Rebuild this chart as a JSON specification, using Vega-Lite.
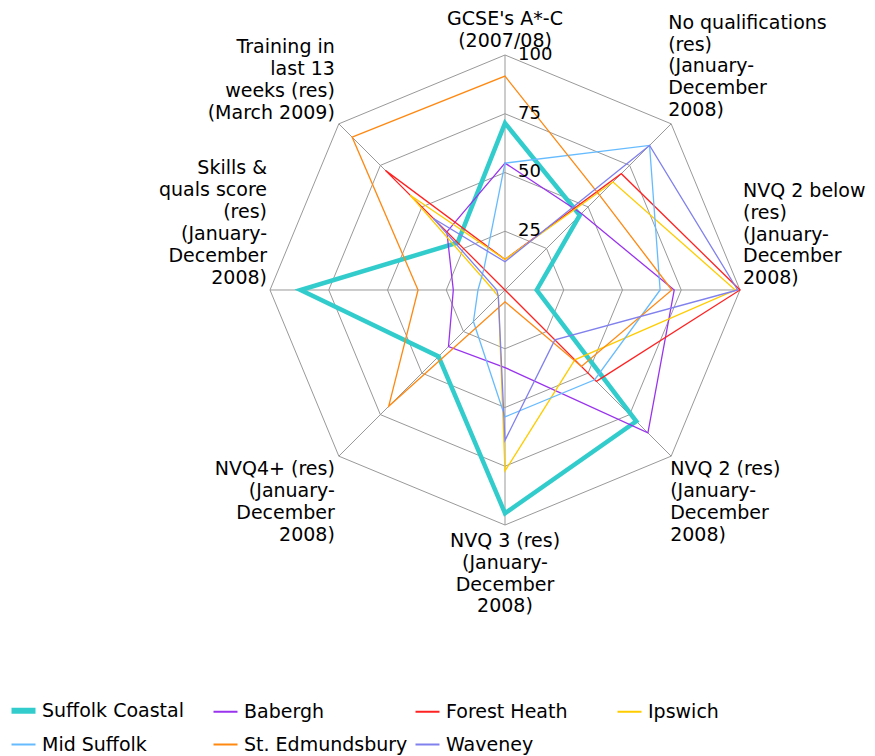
{
  "$schema": "https://vega.github.io/schema/vega-lite/v6.json",
  "width": 875,
  "height": 756,
  "autosize": {"type": "none"},
  "padding": 0,
  "background": "white",
  "config": {"view": {"stroke": null}, "font": "DejaVu Sans"},
  "datasets": {
    "axes": [
      {"axis": "gcse", "idx": 0, "label": "GCSE's A*-C\n(2007/08)"},
      {"axis": "noq", "idx": 1, "label": "No qualifications\n(res)\n(January-\nDecember\n2008)"},
      {"axis": "nvq2b", "idx": 2, "label": "NVQ 2 below\n(res)\n(January-\nDecember\n2008)"},
      {"axis": "nvq2", "idx": 3, "label": "NVQ 2 (res)\n(January-\nDecember\n2008)"},
      {"axis": "nvq3", "idx": 4, "label": "NVQ 3 (res)\n(January-\nDecember\n2008)"},
      {"axis": "nvq4", "idx": 5, "label": "NVQ4+ (res)\n(January-\nDecember\n2008)"},
      {"axis": "skills", "idx": 6, "label": "Skills &\nquals score\n(res)\n(January-\nDecember\n2008)"},
      {"axis": "train", "idx": 7, "label": "Training in\nlast 13\nweeks (res)\n(March 2009)"}
    ],
    "rings": [{"level": 25}, {"level": 50}, {"level": 75}, {"level": 100}],
    "scores": [
      {"district": "Suffolk Coastal", "axis": "gcse", "value": 71},
      {"district": "Suffolk Coastal", "axis": "noq", "value": 45},
      {"district": "Suffolk Coastal", "axis": "nvq2b", "value": 13.5},
      {"district": "Suffolk Coastal", "axis": "nvq2", "value": 79},
      {"district": "Suffolk Coastal", "axis": "nvq3", "value": 95},
      {"district": "Suffolk Coastal", "axis": "nvq4", "value": 40},
      {"district": "Suffolk Coastal", "axis": "skills", "value": 87},
      {"district": "Suffolk Coastal", "axis": "train", "value": 28.5},
      {"district": "Babergh", "axis": "gcse", "value": 54},
      {"district": "Babergh", "axis": "noq", "value": 46},
      {"district": "Babergh", "axis": "nvq2b", "value": 72},
      {"district": "Babergh", "axis": "nvq2", "value": 86},
      {"district": "Babergh", "axis": "nvq3", "value": 33},
      {"district": "Babergh", "axis": "nvq4", "value": 34},
      {"district": "Babergh", "axis": "skills", "value": 22},
      {"district": "Babergh", "axis": "train", "value": 35},
      {"district": "Forest Heath", "axis": "gcse", "value": 13},
      {"district": "Forest Heath", "axis": "noq", "value": 70},
      {"district": "Forest Heath", "axis": "nvq2b", "value": 100},
      {"district": "Forest Heath", "axis": "nvq2", "value": 55},
      {"district": "Forest Heath", "axis": "nvq3", "value": 0},
      {"district": "Forest Heath", "axis": "nvq4", "value": 0},
      {"district": "Forest Heath", "axis": "skills", "value": 0},
      {"district": "Forest Heath", "axis": "train", "value": 72},
      {"district": "Ipswich", "axis": "gcse", "value": 13},
      {"district": "Ipswich", "axis": "noq", "value": 65},
      {"district": "Ipswich", "axis": "nvq2b", "value": 98},
      {"district": "Ipswich", "axis": "nvq2", "value": 42},
      {"district": "Ipswich", "axis": "nvq3", "value": 77},
      {"district": "Ipswich", "axis": "nvq4", "value": 4},
      {"district": "Ipswich", "axis": "skills", "value": 5},
      {"district": "Ipswich", "axis": "train", "value": 57},
      {"district": "Mid Suffolk", "axis": "gcse", "value": 54},
      {"district": "Mid Suffolk", "axis": "noq", "value": 87},
      {"district": "Mid Suffolk", "axis": "nvq2b", "value": 66},
      {"district": "Mid Suffolk", "axis": "nvq2", "value": 54},
      {"district": "Mid Suffolk", "axis": "nvq3", "value": 54},
      {"district": "Mid Suffolk", "axis": "nvq4", "value": 19},
      {"district": "Mid Suffolk", "axis": "skills", "value": 11.5},
      {"district": "Mid Suffolk", "axis": "train", "value": 12.7},
      {"district": "St. Edmundsbury", "axis": "gcse", "value": 91},
      {"district": "St. Edmundsbury", "axis": "noq", "value": 57},
      {"district": "St. Edmundsbury", "axis": "nvq2b", "value": 71},
      {"district": "St. Edmundsbury", "axis": "nvq2", "value": 46},
      {"district": "St. Edmundsbury", "axis": "nvq3", "value": 5},
      {"district": "St. Edmundsbury", "axis": "nvq4", "value": 70},
      {"district": "St. Edmundsbury", "axis": "skills", "value": 37},
      {"district": "St. Edmundsbury", "axis": "train", "value": 92},
      {"district": "Waveney", "axis": "gcse", "value": 12},
      {"district": "Waveney", "axis": "noq", "value": 87},
      {"district": "Waveney", "axis": "nvq2b", "value": 99},
      {"district": "Waveney", "axis": "nvq2", "value": 30},
      {"district": "Waveney", "axis": "nvq3", "value": 64},
      {"district": "Waveney", "axis": "nvq4", "value": 4},
      {"district": "Waveney", "axis": "skills", "value": 3.5},
      {"district": "Waveney", "axis": "train", "value": 43}
    ]
  },
  "layer": [
    {
      "data": {"name": "axes"},
      "transform": [
        {"calculate": "[25, 50, 75, 100]", "as": "levels"},
        {"flatten": ["levels"], "as": ["level"]},
        {"calculate": "datum.level * sin(datum.idx * PI / 4)", "as": "px"},
        {"calculate": "datum.level * cos(datum.idx * PI / 4)", "as": "py"}
      ],
      "mark": {"type": "line", "interpolate": "linear-closed", "color": "#999999", "strokeWidth": 1},
      "encoding": {
        "x": {"field": "px", "type": "quantitative", "scale": {"domain": [-214.894, 157.447], "nice": false, "zero": false}, "axis": null},
        "y": {"field": "py", "type": "quantitative", "scale": {"domain": [-198.298, 123.404], "nice": false, "zero": false}, "axis": null},
        "detail": {"field": "level", "type": "nominal"},
        "order": {"field": "idx", "type": "quantitative"}
      }
    },
    {
      "data": {"name": "axes"},
      "transform": [
        {"calculate": "0", "as": "cx"},
        {"calculate": "100 * sin(datum.idx * PI / 4)", "as": "px"},
        {"calculate": "100 * cos(datum.idx * PI / 4)", "as": "py"}
      ],
      "mark": {"type": "rule", "color": "#999999", "strokeWidth": 1},
      "encoding": {
        "x": {"field": "cx", "type": "quantitative", "scale": {"domain": [-214.894, 157.447], "nice": false, "zero": false}, "axis": null},
        "y": {"field": "cx", "type": "quantitative", "scale": {"domain": [-198.298, 123.404], "nice": false, "zero": false}, "axis": null},
        "x2": {"field": "px"},
        "y2": {"field": "py"}
      }
    },
    {
      "data": {"name": "scores"},
      "transform": [
        {"lookup": "axis", "from": {"data": {"name": "axes"}, "key": "axis", "fields": ["idx"]}},
        {"calculate": "datum.value * sin(datum.idx * PI / 4)", "as": "px"},
        {"calculate": "datum.value * cos(datum.idx * PI / 4)", "as": "py"}
      ],
      "mark": {"type": "line", "interpolate": "linear-closed"},
      "encoding": {
        "x": {"field": "px", "type": "quantitative", "scale": {"domain": [-214.894, 157.447], "nice": false, "zero": false}, "axis": null},
        "y": {"field": "py", "type": "quantitative", "scale": {"domain": [-198.298, 123.404], "nice": false, "zero": false}, "axis": null},
        "order": {"field": "idx", "type": "quantitative"},
        "color": {
          "field": "district",
          "type": "nominal",
          "scale": {
            "domain": ["Suffolk Coastal", "Babergh", "Forest Heath", "Ipswich", "Mid Suffolk", "St. Edmundsbury", "Waveney"],
            "range": ["#33cccc", "#9933ee", "#ff2222", "#ffcc00", "#66bbff", "#ff8811", "#8080ee"]
          },
          "legend": {
            "title": null,
            "orient": "none",
            "legendX": 14,
            "legendY": 701,
            "direction": "horizontal",
            "columns": 4,
            "gridAlign": "all",
            "columnPadding": 3,
            "rowPadding": 12,
            "symbolType": "stroke",
            "symbolSize": 576,
            "symbolStrokeWidth": 2,
            "labelFont": "DejaVu Sans",
            "labelFontSize": 19,
            "labelColor": "#000000",
            "labelOffset": 9,
            "labelLimit": 300,
            "padding": 0,
            "encode": {"symbols": {"update": {"strokeWidth": {"signal": "datum.value === 'Suffolk Coastal' ? 6 : 2"}}}}
          }
        },
        "strokeWidth": {"condition": {"test": "datum.district === 'Suffolk Coastal'", "value": 4.5}, "value": 1.3}
      }
    },
    {
      "data": {"name": "rings"},
      "transform": [{"calculate": "0", "as": "cx"}],
      "mark": {"type": "text", "align": "left", "baseline": "middle", "dx": 13, "fontSize": 18, "font": "DejaVu Sans", "color": "#000000"},
      "encoding": {
        "x": {"field": "cx", "type": "quantitative", "scale": {"domain": [-214.894, 157.447], "nice": false, "zero": false}, "axis": null},
        "y": {"field": "level", "type": "quantitative", "scale": {"domain": [-198.298, 123.404], "nice": false, "zero": false}, "axis": null},
        "text": {"field": "level", "type": "quantitative"}
      }
    },
    {
      "data": {"name": "axes"},
      "transform": [{"filter": "datum.axis === 'gcse'"}, {"calculate": "100 * sin(datum.idx * PI / 4)", "as": "px"}, {"calculate": "100 * cos(datum.idx * PI / 4)", "as": "py"}],
      "mark": {"type": "text", "align": "center", "baseline": "middle", "dx": 0, "dy": -36, "lineBreak": "\n", "lineHeight": 22, "fontSize": 19, "font": "DejaVu Sans", "color": "#000000"},
      "encoding": {
        "x": {"field": "px", "type": "quantitative", "scale": {"domain": [-214.894, 157.447], "nice": false, "zero": false}, "axis": null},
        "y": {"field": "py", "type": "quantitative", "scale": {"domain": [-198.298, 123.404], "nice": false, "zero": false}, "axis": null},
        "text": {"field": "label", "type": "nominal"}
      }
    },
    {
      "data": {"name": "axes"},
      "transform": [{"filter": "datum.axis === 'noq'"}, {"calculate": "100 * sin(datum.idx * PI / 4)", "as": "px"}, {"calculate": "100 * cos(datum.idx * PI / 4)", "as": "py"}],
      "mark": {"type": "text", "align": "left", "baseline": "middle", "dx": -3, "dy": -101, "lineBreak": "\n", "lineHeight": 21.8, "fontSize": 19, "font": "DejaVu Sans", "color": "#000000"},
      "encoding": {
        "x": {"field": "px", "type": "quantitative", "scale": {"domain": [-214.894, 157.447], "nice": false, "zero": false}, "axis": null},
        "y": {"field": "py", "type": "quantitative", "scale": {"domain": [-198.298, 123.404], "nice": false, "zero": false}, "axis": null},
        "text": {"field": "label", "type": "nominal"}
      }
    },
    {
      "data": {"name": "axes"},
      "transform": [{"filter": "datum.axis === 'nvq2b'"}, {"calculate": "100 * sin(datum.idx * PI / 4)", "as": "px"}, {"calculate": "100 * cos(datum.idx * PI / 4)", "as": "py"}],
      "mark": {"type": "text", "align": "left", "baseline": "middle", "dx": 3, "dy": -99, "lineBreak": "\n", "lineHeight": 21.8, "fontSize": 19, "font": "DejaVu Sans", "color": "#000000"},
      "encoding": {
        "x": {"field": "px", "type": "quantitative", "scale": {"domain": [-214.894, 157.447], "nice": false, "zero": false}, "axis": null},
        "y": {"field": "py", "type": "quantitative", "scale": {"domain": [-198.298, 123.404], "nice": false, "zero": false}, "axis": null},
        "text": {"field": "label", "type": "nominal"}
      }
    },
    {
      "data": {"name": "axes"},
      "transform": [{"filter": "datum.axis === 'nvq2'"}, {"calculate": "100 * sin(datum.idx * PI / 4)", "as": "px"}, {"calculate": "100 * cos(datum.idx * PI / 4)", "as": "py"}],
      "mark": {"type": "text", "align": "left", "baseline": "middle", "dx": -1, "dy": 13, "lineBreak": "\n", "lineHeight": 21.8, "fontSize": 19, "font": "DejaVu Sans", "color": "#000000"},
      "encoding": {
        "x": {"field": "px", "type": "quantitative", "scale": {"domain": [-214.894, 157.447], "nice": false, "zero": false}, "axis": null},
        "y": {"field": "py", "type": "quantitative", "scale": {"domain": [-198.298, 123.404], "nice": false, "zero": false}, "axis": null},
        "text": {"field": "label", "type": "nominal"}
      }
    },
    {
      "data": {"name": "axes"},
      "transform": [{"filter": "datum.axis === 'nvq3'"}, {"calculate": "100 * sin(datum.idx * PI / 4)", "as": "px"}, {"calculate": "100 * cos(datum.idx * PI / 4)", "as": "py"}],
      "mark": {"type": "text", "align": "center", "baseline": "middle", "dx": 0, "dy": 16, "lineBreak": "\n", "lineHeight": 21.8, "fontSize": 19, "font": "DejaVu Sans", "color": "#000000"},
      "encoding": {
        "x": {"field": "px", "type": "quantitative", "scale": {"domain": [-214.894, 157.447], "nice": false, "zero": false}, "axis": null},
        "y": {"field": "py", "type": "quantitative", "scale": {"domain": [-198.298, 123.404], "nice": false, "zero": false}, "axis": null},
        "text": {"field": "label", "type": "nominal"}
      }
    },
    {
      "data": {"name": "axes"},
      "transform": [{"filter": "datum.axis === 'nvq4'"}, {"calculate": "100 * sin(datum.idx * PI / 4)", "as": "px"}, {"calculate": "100 * cos(datum.idx * PI / 4)", "as": "py"}],
      "mark": {"type": "text", "align": "right", "baseline": "middle", "dx": -4, "dy": 13, "lineBreak": "\n", "lineHeight": 21.8, "fontSize": 19, "font": "DejaVu Sans", "color": "#000000"},
      "encoding": {
        "x": {"field": "px", "type": "quantitative", "scale": {"domain": [-214.894, 157.447], "nice": false, "zero": false}, "axis": null},
        "y": {"field": "py", "type": "quantitative", "scale": {"domain": [-198.298, 123.404], "nice": false, "zero": false}, "axis": null},
        "text": {"field": "label", "type": "nominal"}
      }
    },
    {
      "data": {"name": "axes"},
      "transform": [{"filter": "datum.axis === 'skills'"}, {"calculate": "100 * sin(datum.idx * PI / 4)", "as": "px"}, {"calculate": "100 * cos(datum.idx * PI / 4)", "as": "py"}],
      "mark": {"type": "text", "align": "right", "baseline": "middle", "dx": -3, "dy": -122, "lineBreak": "\n", "lineHeight": 22, "fontSize": 19, "font": "DejaVu Sans", "color": "#000000"},
      "encoding": {
        "x": {"field": "px", "type": "quantitative", "scale": {"domain": [-214.894, 157.447], "nice": false, "zero": false}, "axis": null},
        "y": {"field": "py", "type": "quantitative", "scale": {"domain": [-198.298, 123.404], "nice": false, "zero": false}, "axis": null},
        "text": {"field": "label", "type": "nominal"}
      }
    },
    {
      "data": {"name": "axes"},
      "transform": [{"filter": "datum.axis === 'train'"}, {"calculate": "100 * sin(datum.idx * PI / 4)", "as": "px"}, {"calculate": "100 * cos(datum.idx * PI / 4)", "as": "py"}],
      "mark": {"type": "text", "align": "right", "baseline": "middle", "dx": -4, "dy": -77, "lineBreak": "\n", "lineHeight": 22, "fontSize": 19, "font": "DejaVu Sans", "color": "#000000"},
      "encoding": {
        "x": {"field": "px", "type": "quantitative", "scale": {"domain": [-214.894, 157.447], "nice": false, "zero": false}, "axis": null},
        "y": {"field": "py", "type": "quantitative", "scale": {"domain": [-198.298, 123.404], "nice": false, "zero": false}, "axis": null},
        "text": {"field": "label", "type": "nominal"}
      }
    }
  ]
}
